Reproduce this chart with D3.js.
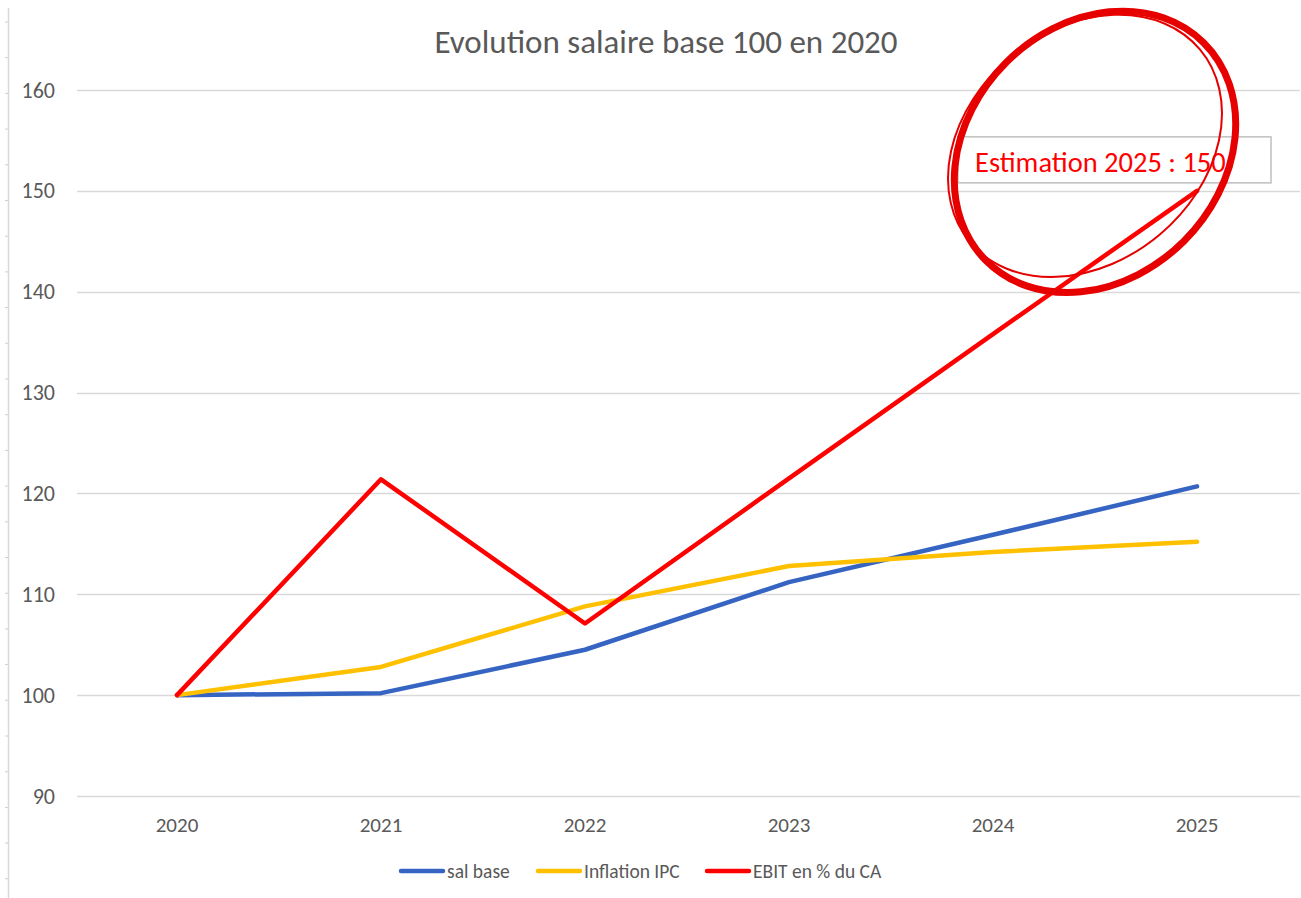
<!DOCTYPE html>
<html><head><meta charset="utf-8">
<script src="https://cdn.jsdelivr.net/npm/d3@7"></script>
<style>body{margin:0;background:#fff;}svg{display:block;font-family:Carlito,"Open Sans","Liberation Sans",sans-serif;}</style>
</head><body>
<svg id="c" width="1301" height="898"></svg>
<script>
const years = ["2020","2021","2022","2023","2024","2025"];
const salBase = [100, 100.2, 104.5, 111.2, 115.9, 120.7];
const inflationIPC = [100, 102.8, 108.8, 112.8, 114.2, 115.2];
const ebit = [100, 121.4, 107.1, 121.5, 135.8, 150];
const yTicks = [90, 100, 110, 120, 130, 140, 150, 160];
const seriesNames = ["sal base", "Inflation IPC", "EBIT en % du CA"];
const seriesColors = ["#3564c2", "#ffc000", "#ff0000"];
const title = "Evolution salaire base 100 en 2020";
const annotation = "Estimation 2025 : 150";

const svg = d3.select("#c");
const x = d3.scalePoint().domain(years).range([177, 1197]);
const y = d3.scaleLinear().domain([90, 160]).range([796, 90]);

// left border with small ticks
svg.append("line").attr("x1",8.5).attr("x2",8.5).attr("y1",8).attr("y2",898).attr("stroke","#d9d9d9").attr("stroke-width",1.5);
svg.append("g").selectAll("line").data(d3.range(22, 898, 35.7)).join("line")
  .attr("x1",5).attr("x2",8.5).attr("y1",d=>d).attr("y2",d=>d).attr("stroke","#d0d0d0");

// gridlines
svg.append("g").selectAll("line").data(yTicks).join("line")
  .attr("x1",77).attr("x2",1300).attr("y1",d=>Math.round(y(d))+0.5).attr("y2",d=>Math.round(y(d))+0.5)
  .attr("stroke","#d9d9d9").attr("stroke-width",1.5);

// y labels
svg.append("g").selectAll("text").data(yTicks).join("text")
  .attr("x",55).attr("y",d=>y(d)+7.5).attr("text-anchor","end")
  .attr("font-size",22).attr("fill","#595959").text(d=>d);

// x labels
svg.append("g").selectAll("text").data(years).join("text")
  .attr("x",d=>x(d)).attr("y",832).attr("text-anchor","middle")
  .attr("font-size",21).attr("fill","#595959").text(d=>d);

// title
svg.append("text").attr("x",666).attr("y",53).attr("text-anchor","middle")
  .attr("font-size",33).attr("fill","#595959").text(title);

// lines
const line = d3.line().x((d,i)=>x(years[i])).y(d=>y(d));
[salBase, inflationIPC, ebit].forEach((s,i)=>{
  svg.append("path").attr("d", line(s)).attr("fill","none")
    .attr("stroke", seriesColors[i]).attr("stroke-width",4.5)
    .attr("stroke-linejoin","round").attr("stroke-linecap","round");
});

// legend
const legendX = [401, 538, 707];
seriesNames.forEach((n,i)=>{
  svg.append("line").attr("x1",legendX[i]).attr("x2",legendX[i]+42).attr("y1",871).attr("y2",871)
    .attr("stroke",seriesColors[i]).attr("stroke-width",4.5).attr("stroke-linecap","round");
  svg.append("text").attr("x",legendX[i]+46).attr("y",878).attr("font-size",19.5).attr("fill","#595959").text(n);
});

// annotation box
const ax = x("2025"), ay = y(150);
svg.append("rect").attr("x",ax-239).attr("y",ay-54).attr("width",313).attr("height",46)
  .attr("fill","none").attr("stroke","#bfbfbf").attr("stroke-width",1.5);
svg.append("text").attr("x",ax-222).attr("y",ay-19).attr("font-size",28.5).attr("fill","#ff0000").text(annotation);

// hand-drawn circle
const cx = ax-102, cy = ay-39;
svg.append("ellipse").attr("cx",0).attr("cy",0).attr("rx",154).attr("ry",126)
  .attr("transform",`translate(${cx},${cy}) rotate(-45)`)
  .attr("fill","none").attr("stroke","#e60000").attr("stroke-width",7);
svg.append("ellipse").attr("cx",0).attr("cy",0).attr("rx",150).attr("ry",116)
  .attr("transform",`translate(${cx-10},${cy-6}) rotate(-40)`)
  .attr("fill","none").attr("stroke","#e60000").attr("stroke-width",2);
</script>
</body></html>
